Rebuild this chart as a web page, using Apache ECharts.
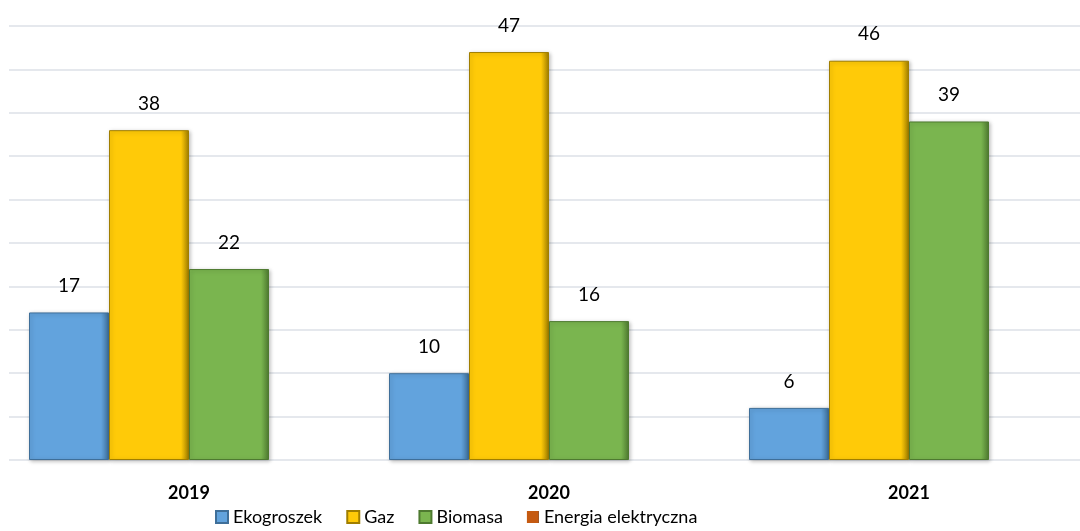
<!DOCTYPE html>
<html>
<head>
<meta charset="utf-8">
<script src="https://cdn.jsdelivr.net/npm/echarts@6/dist/echarts.min.js"></script>
<style>
html,body{margin:0;padding:0;background:#fff;overflow:hidden;width:1080px;height:531px;}
#chart{width:1100px;height:531px;}
</style>
</head>
<body>
<div id="chart"></div>
<script>
const categories = ['2019', '2020', '2021'];
const seriesNames = ['Ekogroszek', 'Gaz', 'Biomasa', 'Energia elektryczna'];
const ekogroszek = [17, 10, 6];
const gaz = [38, 47, 46];
const biomasa = [22, 16, 39];
const energia = [0, 0, 0];

const colors = ['#62A3DD', '#FFCA08', '#7AB54F', '#C55A11'];
const borders = ['#3F6F99', '#A07E00', '#4E7A30', '#7F3A0B'];
const values = [ekogroszek, gaz, biomasa, energia];

const chart = echarts.init(document.getElementById('chart'));
chart.setOption({
  animation: false,
  color: colors,
  textStyle: { fontFamily: 'Lato, sans-serif' },
  grid: { left: 9, width: 1080, top: 26, bottom: 71, containLabel: false },
  legend: {
    bottom: 0,
    left: 210,
    itemWidth: 12,
    itemHeight: 12,
    itemGap: 24,
    icon: 'rect',
    textStyle: { fontSize: 18, color: '#000', fontFamily: 'Lato, sans-serif' },
    data: seriesNames
  },
  xAxis: {
    type: 'category',
    data: categories,
    axisLine: { show: false },
    axisTick: { show: false },
    axisLabel: { fontSize: 18, fontWeight: 'bold', color: '#000', margin: 24 }
  },
  yAxis: {
    type: 'value',
    min: 0,
    max: 50,
    interval: 5,
    axisLabel: { show: false },
    axisLine: { show: false },
    axisTick: { show: false },
    splitLine: { lineStyle: { color: '#DDE1E7', width: 1.5 } }
  },
  series: seriesNames.map((name, i) => ({
    name: name,
    type: 'bar',
    data: values[i],
    barWidth: 80,
    barGap: '0%',
    itemStyle: {
      color: new echarts.graphic.LinearGradient(0, 0, 1, 0, [
        { offset: 0, color: colors[i] },
        { offset: 0.9, color: colors[i] },
        { offset: 1, color: borders[i] }
      ]),
      borderColor: borders[i],
      borderWidth: values[i].every(v => v === 0) ? 0 : 1,
      shadowColor: 'rgba(0,0,0,0.25)',
      shadowBlur: values[i].every(v => v === 0) ? 0 : 4,
      shadowOffsetX: 1,
      shadowOffsetY: 1
    },
    label: {
      show: true,
      position: 'top',
      distance: 17,
      fontSize: 19,
      color: '#000',
      formatter: p => (p.value === 0 ? '' : p.value)
    }
  }))
});
</script>
</body>
</html>
